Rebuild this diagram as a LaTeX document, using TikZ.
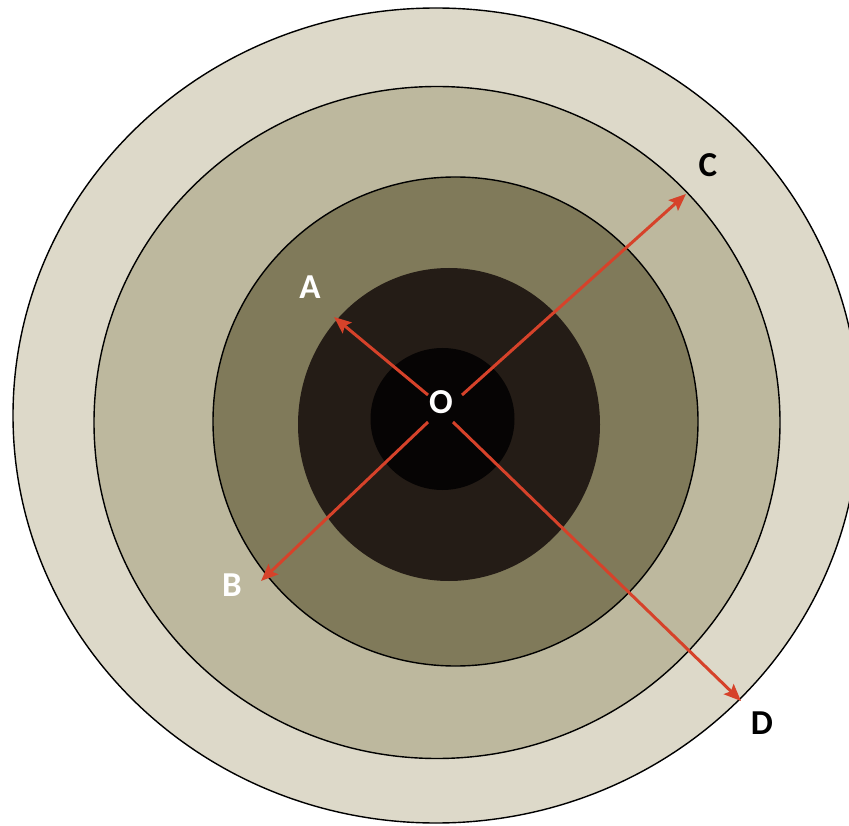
\documentclass[tikz,border=0pt]{standalone}
\usepackage{fontspec}
\setmainfont{Carlito}
\usetikzlibrary{arrows.meta}
\definecolor{ringA}{RGB}{221,217,201}
\definecolor{ringB}{RGB}{189,184,158}
\definecolor{ringC}{RGB}{128,122,90}
\definecolor{ringD}{RGB}{36,28,22}
\definecolor{ringE}{RGB}{6,4,4}
\definecolor{arrowred}{RGB}{214,66,42}
\tikzset{
  ring/.style={draw=black,line width=1.4pt},
  redarrow/.style={draw=arrowred,line width=3pt,-{Stealth[length=17pt,width=14pt,inset=3pt]}},
  lab/.style={font=\fontsize{35}{35}\selectfont\bfseries,inner sep=0pt},
}
\begin{document}
\begin{tikzpicture}[x=1pt,y=-1pt]
\useasboundingbox (0,0) rectangle (849,826);
\fill[white] (0,0) rectangle (849,826);
\clip (0,0) rectangle (849,826);
\filldraw[ring,fill=ringA] (436,415.5) ellipse [x radius=423pt, y radius=407.5pt];
\filldraw[ring,fill=ringB] (437,422.5) ellipse [x radius=343pt, y radius=336pt];
\filldraw[ring,fill=ringC] (455.5,421.5) ellipse [x radius=242.5pt, y radius=244.5pt];
\fill[ringD] (449,424.5) ellipse [x radius=151pt, y radius=156.5pt];
\fill[ringE] (442.5,419) ellipse [x radius=72pt, y radius=71pt];
% labels
\node[lab,text=white] (O) at (441,402) {O};
\node[lab,text=white] (A) at (310,287) {A};
\node[lab,text=white] (B) at (232,585) {B};
\node[lab,text=black] (C) at (708,165) {C};
\node[lab,text=black] (D) at (762,723) {D};
% arrow ends
\coordinate (sA) at (428,395);
\coordinate (sB) at (428,422);
\coordinate (sC) at (462,395);
\coordinate (sD) at (453,422);
\coordinate (tA) at (334,317);
\coordinate (tB) at (261,581);
\coordinate (tC) at (686,194);
\coordinate (tD) at (741,701);
\draw[redarrow] (sA) -- (tA);
\draw[redarrow] (sB) -- (tB);
\draw[redarrow] (sC) -- (tC);
\draw[redarrow] (sD) -- (tD);
\end{tikzpicture}
\end{document}
